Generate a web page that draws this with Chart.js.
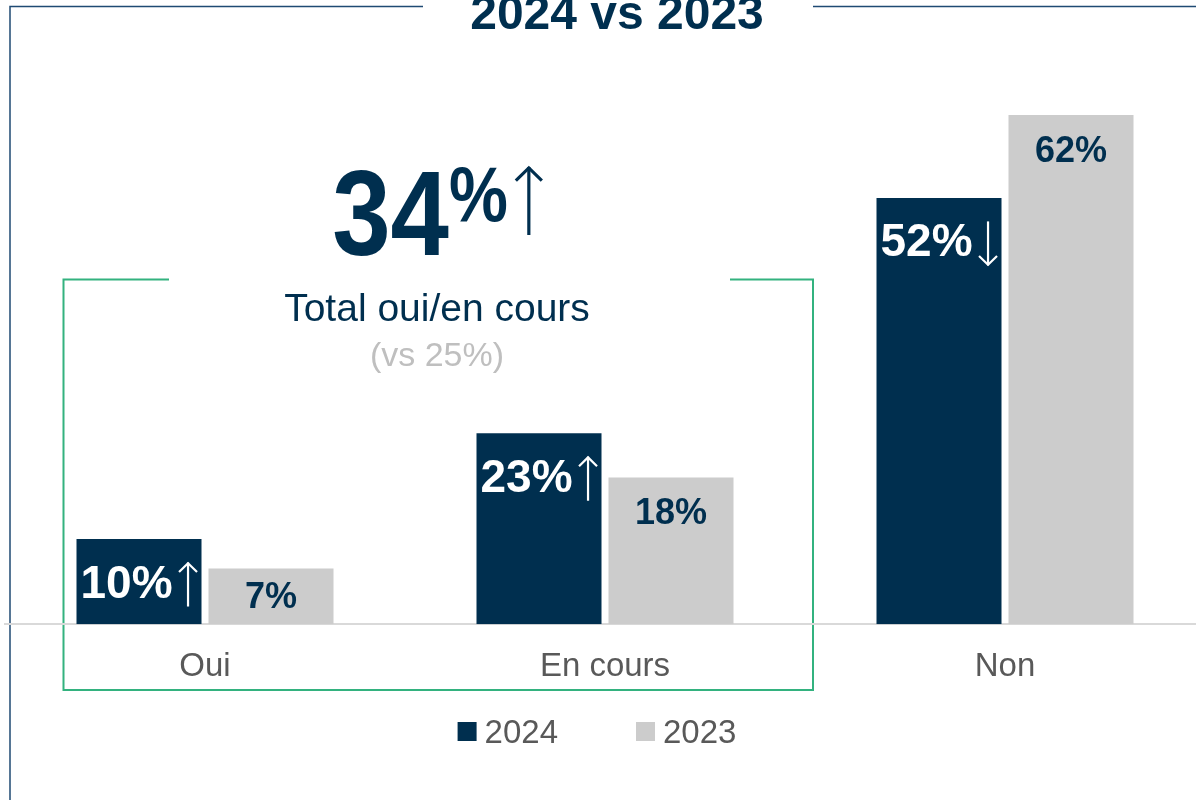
<!DOCTYPE html>
<html>
<head>
<meta charset="utf-8">
<script src="https://cdn.jsdelivr.net/npm/chart.js@4.4.1/dist/chart.umd.min.js"></script>
<style>
  html, body { margin: 0; padding: 0; background: #fff; overflow: hidden; }
  #wrap { position: relative; width: 1210px; height: 800px; }
</style>
</head>
<body>
<div id="wrap"><canvas id="chart" width="1210" height="800"></canvas></div>
<script>
// data
const categories = ['Oui', 'En cours', 'Non'];
const seriesNames = ['2024', '2023'];
const values2024 = [10.4, 23.3, 52.0];
const values2023 = [6.8, 17.9, 62.1];

const NAVY = '#002f4f';
const GREY_BAR = '#cccccc';
const TEXT_GREY = '#595959';
const FONT = '"Liberation Sans", Arial, sans-serif';

// draws text squeezed horizontally, returns the drawn width
function squeezedText(ctx, text, x, y, font, sx) {
  ctx.save();
  ctx.font = font;
  const w = ctx.measureText(text).width * sx;
  ctx.translate(x, y);
  ctx.scale(sx, 1);
  ctx.textAlign = 'left';
  ctx.fillText(text, 0, 0);
  ctx.restore();
  return w;
}

// thin up/down arrow (the font's arrow glyph is too small)
function drawArrow(ctx, cx, top, bottom, halfW, lw, up, color) {
  ctx.save();
  ctx.strokeStyle = color;
  ctx.lineWidth = lw;
  ctx.lineCap = 'butt';
  ctx.lineJoin = 'miter';
  ctx.beginPath();
  ctx.moveTo(cx, top);
  ctx.lineTo(cx, bottom);
  ctx.stroke();
  const tip = up ? top : bottom;
  const dir = up ? 1 : -1;
  ctx.beginPath();
  ctx.moveTo(cx - halfW, tip + dir * halfW * 1.05);
  ctx.lineTo(cx, tip + dir * lw * 0.3);
  ctx.lineTo(cx + halfW, tip + dir * halfW * 1.05);
  ctx.stroke();
  ctx.restore();
}

// frame, title, green box and the "total" call-out
const decorPlugin = {
  id: 'decor',
  beforeDraw(chart) {
    const ctx = chart.ctx;
    ctx.save();

    // navy frame round the slide
    ctx.strokeStyle = '#1f4a73';
    ctx.lineWidth = 1.5;
    ctx.beginPath();
    ctx.moveTo(10, 800);
    ctx.lineTo(10, 6.5);
    ctx.lineTo(423, 6.5);
    ctx.moveTo(813, 6.5);
    ctx.lineTo(1210, 6.5);
    ctx.stroke();

    // title
    ctx.fillStyle = NAVY;
    ctx.font = 'bold 48px ' + FONT;
    ctx.textAlign = 'center';
    ctx.textBaseline = 'alphabetic';
    ctx.fillText(seriesNames[0] + ' vs ' + seriesNames[1], 617, 28.5);

    // green bracket round Oui / En cours
    ctx.strokeStyle = '#33b27f';
    ctx.lineWidth = 2;
    ctx.beginPath();
    ctx.moveTo(169, 279.5);
    ctx.lineTo(63.5, 279.5);
    ctx.lineTo(63.5, 690);
    ctx.lineTo(813, 690);
    ctx.lineTo(813, 279.5);
    ctx.lineTo(730, 279.5);
    ctx.stroke();

    // call-out: total oui + en cours
    const total24 = Math.round(values2024[0] + values2024[1]);
    const total23 = Math.round(values2023[0] + values2023[1]);
    const up = total24 > total23;

    ctx.font = 'bold 120px ' + FONT;
    const wNum = ctx.measureText(String(total24)).width * 0.875;
    ctx.font = 'bold 77px ' + FONT;
    const wPct = ctx.measureText('%').width * 0.86;
    const wArr = 8 + 26;
    let x = 437 - (wNum + wPct + wArr) / 2;

    ctx.fillStyle = NAVY;
    x += squeezedText(ctx, String(total24), x, 255, 'bold 120px ' + FONT, 0.875);
    x += squeezedText(ctx, '%', x, 221, 'bold 77px ' + FONT, 0.86);
    drawArrow(ctx, x + 8 + 13, 167, 235, 13, 3.2, up, NAVY);

    ctx.textAlign = 'center';
    ctx.fillStyle = NAVY;
    ctx.font = '39px ' + FONT;
    ctx.fillText('Total oui/en cours', 437, 321);
    ctx.fillStyle = '#bfbfbf';
    ctx.font = '34px ' + FONT;
    ctx.fillText('(vs ' + total23 + '%)', 437, 366);

    ctx.restore();
  }
};

// value labels inside the bars
const barLabelPlugin = {
  id: 'barLabels',
  afterDatasetsDraw(chart) {
    const ctx = chart.ctx;
    ctx.save();
    ctx.textBaseline = 'alphabetic';

    chart.getDatasetMeta(0).data.forEach((bar, i) => {
      const txt = Math.round(values2024[i]) + '%';
      const up = values2024[i] > values2023[i];
      ctx.font = 'bold 46px ' + FONT;
      const w1 = ctx.measureText(txt).width;
      const gap = 6, aw = 19;
      const left = bar.x - (w1 + gap + aw) / 2;
      const base = bar.y + 58.5;
      ctx.fillStyle = '#ffffff';
      ctx.textAlign = 'left';
      ctx.fillText(txt, left, base);
      drawArrow(ctx, left + w1 + gap + aw / 2, base - 35, base + 9, 9, 2.2, up, '#ffffff');
    });

    chart.getDatasetMeta(1).data.forEach((bar, i) => {
      const txt = Math.round(values2023[i]) + '%';
      const h = bar.base - bar.y;
      const base = bar.y + Math.min(46.5, h / 2 + 12);
      ctx.fillStyle = NAVY;
      ctx.textAlign = 'center';
      ctx.font = 'bold 36px ' + FONT;
      ctx.fillText(txt, bar.x, base);
    });

    ctx.restore();
  }
};

// legend with a tight box/text gap
const legendPlugin = {
  id: 'squareLegend',
  afterDraw(chart) {
    const ctx = chart.ctx;
    const box = 19, gap = 8, itemGap = 78;
    ctx.save();
    ctx.font = '33px ' + FONT;
    const items = chart.data.datasets.map(ds => ({
      label: ds.label,
      color: ds.backgroundColor,
      w: box + gap + ctx.measureText(ds.label).width
    }));
    const total = items.reduce((s, it) => s + it.w, 0) + itemGap * (items.length - 1);
    let x = 597 - total / 2;
    items.forEach(it => {
      ctx.fillStyle = it.color;
      ctx.fillRect(x, 722, box, box);
      ctx.fillStyle = TEXT_GREY;
      ctx.textAlign = 'left';
      ctx.textBaseline = 'alphabetic';
      ctx.fillText(it.label, x + box + gap, 743);
      x += it.w + itemGap;
    });
    ctx.restore();
  }
};

new Chart(document.getElementById('chart'), {
  type: 'bar',
  data: {
    labels: categories,
    datasets: [
      { label: seriesNames[0], data: values2024, backgroundColor: NAVY },
      { label: seriesNames[1], data: values2023, backgroundColor: GREY_BAR }
    ]
  },
  options: {
    responsive: false,
    animation: false,
    devicePixelRatio: 1,
    categoryPercentage: 0.66,
    barPercentage: 0.947,
    layout: { padding: { left: 5, right: 5, top: 50.3, bottom: 115.7 } },
    plugins: {
      legend: { display: false },
      tooltip: { enabled: false },
      title: { display: false }
    },
    scales: {
      x: {
        grid: { display: true, color: 'rgba(0,0,0,0)', drawTicks: false },
        border: { display: true, color: '#d9d9d9', width: 2 },
        ticks: {
          color: TEXT_GREY,
          padding: 23,
          font: { family: FONT, size: 33 }
        },
        afterFit(scale) { scale.height = 60; }
      },
      y: {
        display: false,
        min: 0,
        max: 70
      }
    }
  },
  plugins: [decorPlugin, barLabelPlugin, legendPlugin]
});
</script>
</body>
</html>
